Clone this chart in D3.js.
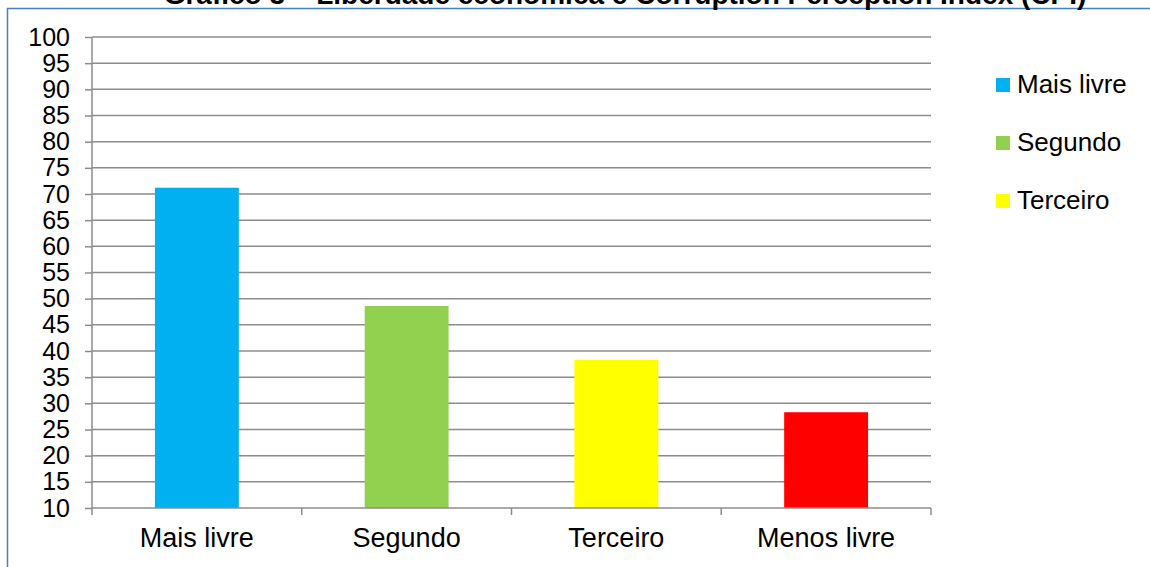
<!DOCTYPE html>
<html>
<head>
<meta charset="utf-8">
<script src="https://cdn.jsdelivr.net/npm/d3@7"></script>
<style>
  html, body { margin: 0; padding: 0; background: #fff; }
  svg { display: block; font-family: Arial, "Liberation Sans", sans-serif; }
</style>
</head>
<body>
<svg id="chart" width="1150" height="567"></svg>
<script>
// Índice de percepção da corrupção por quartil de liberdade econômica
const categories = ["Mais livre", "Segundo", "Terceiro", "Menos livre"];
const values = [71.2, 48.6, 38.3, 28.3];
const colors = ["#00B0F0", "#92D050", "#FFFF00", "#FF0000"];
const yTicks = d3.range(10, 101, 5);
const legendItems = ["Mais livre", "Segundo", "Terceiro"];
const title = "Gráfico 3 – Liberdade econômica e Corruption Perception Index (CPI)";

const svg = d3.select("#chart");
const margin = { left: 92, right: 219, top: 37, bottom: 59 };
const W = 1150, H = 567;

// chart frame
svg.append("rect")
  .attr("x", 7.5).attr("y", 8.5)
  .attr("width", W + 20).attr("height", H + 20)
  .attr("fill", "none").attr("stroke", "#4A7EBB").attr("stroke-width", 1.5);

svg.append("text")
  .attr("x", 625).attr("y", 4)
  .attr("text-anchor", "middle")
  .attr("font-weight", "bold")
  .attr("font-size", 28)
  .attr("fill", "#000")
  .text(title);

const x = d3.scaleBand()
  .domain(categories)
  .range([margin.left, W - margin.right])
  .paddingInner(0.6).paddingOuter(0.3);

const y = d3.scaleLinear()
  .domain([10, 100])
  .range([H - margin.bottom, margin.top]);

const gridColor = "#8C8C8C";

// horizontal gridlines
svg.append("g")
  .selectAll("line")
  .data(yTicks.filter(t => t > 10))
  .join("line")
  .attr("x1", margin.left).attr("x2", W - margin.right)
  .attr("y1", d => y(d)).attr("y2", d => y(d))
  .attr("stroke", gridColor).attr("stroke-width", 1.5);

// bars
svg.append("g")
  .selectAll("rect")
  .data(categories)
  .join("rect")
  .attr("x", d => x(d))
  .attr("width", x.bandwidth())
  .attr("y", (d, i) => y(values[i]))
  .attr("height", (d, i) => y(10) - y(values[i]))
  .attr("fill", (d, i) => colors[i]);

// y axis
const yAxis = d3.axisLeft(y).tickValues(yTicks).tickSize(7).tickPadding(15);
const gy = svg.append("g").attr("transform", `translate(${margin.left},0)`).call(yAxis);
gy.select(".domain").remove();
gy.selectAll(".tick line").attr("stroke", gridColor).attr("stroke-width", 1.5);
gy.selectAll(".tick text")
  .attr("font-size", 25).attr("fill", "#000")
  .attr("font-family", "Arial, 'Liberation Sans', sans-serif");
svg.append("line")
  .attr("x1", margin.left).attr("x2", margin.left)
  .attr("y1", margin.top).attr("y2", y(10) + 7)
  .attr("stroke", gridColor).attr("stroke-width", 1.5);

// x axis: baseline with tick marks at category boundaries
svg.append("line")
  .attr("x1", margin.left).attr("x2", W - margin.right)
  .attr("y1", y(10)).attr("y2", y(10))
  .attr("stroke", gridColor).attr("stroke-width", 1.5);
const step = x.step();
svg.append("g")
  .selectAll("line")
  .data(categories)
  .join("line")
  .attr("x1", d => x(d) + x.bandwidth() / 2 + step / 2)
  .attr("x2", d => x(d) + x.bandwidth() / 2 + step / 2)
  .attr("y1", y(10)).attr("y2", y(10) + 7)
  .attr("stroke", gridColor).attr("stroke-width", 1.5);
svg.append("g")
  .selectAll("text")
  .data(categories)
  .join("text")
  .attr("x", d => x(d) + x.bandwidth() / 2)
  .attr("y", 547)
  .attr("text-anchor", "middle")
  .attr("font-size", 27)
  .text(d => d);

// legend
const legend = svg.append("g")
  .selectAll("g")
  .data(legendItems)
  .join("g")
  .attr("transform", (d, i) => `translate(996,${78 + i * 58})`);
legend.append("rect")
  .attr("width", 14).attr("height", 14)
  .attr("fill", (d, i) => colors[i]);
legend.append("text")
  .attr("x", 21).attr("y", 15)
  .attr("font-size", 26)
  .text(d => d);
</script>
</body>
</html>
